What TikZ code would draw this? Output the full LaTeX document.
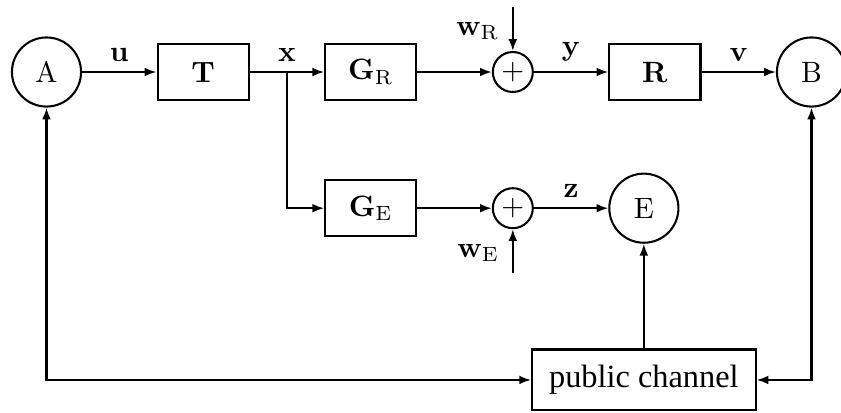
\documentclass[tikz,border=0pt]{standalone}
\usepackage{amsmath}
\usepackage{amssymb}
\usepackage[no-math]{fontspec}
\setmainfont{Liberation Serif}
\usepackage{tikz}
\usetikzlibrary{positioning}
\usetikzlibrary{arrows.meta}

\begin{document}
\begin{tikzpicture}[node distance=25.3pt, line width=0.7pt,
    >={Latex[length=4pt,width=3pt]},
    blk/.style={draw, minimum width=31pt, minimum height=19pt},
    party/.style={draw, circle, minimum size=23.5pt, inner sep=0pt},
    summ/.style={draw, circle, minimum size=13.6pt, inner sep=0pt}]
            \useasboundingbox (-15.81pt,24.48pt) rectangle (270.13pt,-115.6pt);
            \node[party](A) {$\mathrm{A}$};
            \node[blk](T) [right=of A] {$\mathbf{T}$};
            \node[blk](GR) [right=of T] {$\mathbf{G}_{\mathrm{R}}$};
            \node[summ](sumR) [right=of GR] {$+$};
            \node[blk](R) [right=of sumR] {$\mathbf{R}$};
            \node[party](B) [right=of R] {$\mathrm{B}$};
            \node[blk](GE) [below=26.6pt of GR] {$\mathbf{G}_{\mathrm{E}}$};
            \node[summ](sumE) [right=of GE] {$+$};
            \node[party](E) [right=of sumE] {$\mathrm{E}$};
            \node[draw, minimum width=76pt, minimum height=20.7pt](pc) [below=35.6pt of E] {\fontsize{11}{13}\selectfont public channel};
            \coordinate[above=15pt of sumR] (wR);
            \coordinate[below=15pt of sumE] (wE);

            \draw[->] (A) -- node[above] {$\mathbf{u}$} (T);
            \draw[->] (T) -- node[above] {$\mathbf{x}$} coordinate (br) (GR);
            \draw[->] (br) |- (GE);
            \draw[->] (GR) -- (sumR);
            \draw[->] (sumR) -- node[above] {$\mathbf{y}$} (R);
            \draw[->] (R) -- node[above] {$\mathbf{v}$} (B);
            \draw[->] (wR) -- node[left=1pt, yshift=-0.6pt] {$\mathbf{w}_{\mathrm{R}}$} (sumR);
            \draw[->] (GE) -- (sumE);
            \draw[->] (sumE) -- node[above] {$\mathbf{z}$} (E);
            \draw[->] (wE) -- node[left=1pt, yshift=-0.6pt] {$\mathbf{w}_{\mathrm{E}}$} (sumE);
            \draw[->] (pc) -- (E);
            \draw[<->] (A) |- (pc);
            \draw[<->] (B) |- (pc);
        \end{tikzpicture}
\end{document}
